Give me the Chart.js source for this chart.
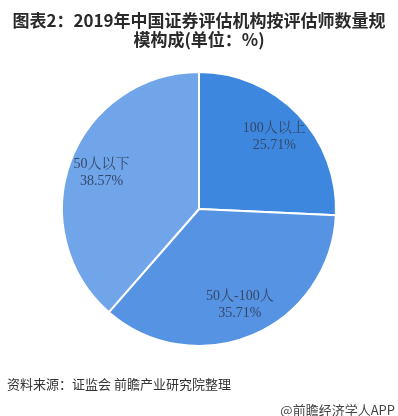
<!DOCTYPE html>
<html>
<head>
<meta charset="utf-8">
<script src="https://cdn.jsdelivr.net/npm/chart.js@4/dist/chart.umd.min.js"></script>
<style>
    html, body { margin: 0; padding: 0; background: #fff; }
    #box { width: 398px; height: 416px; position: relative; }
</style>
</head>
<body>
<div id="box"><canvas id="pieGraf"></canvas></div>
<script>
const labels = ['100人以上', '50人-100人', '50人以下'];
const values = [25.71, 35.71, 38.57];
const colors = ['rgb(62, 135, 222)', 'rgb(86, 147, 226)', 'rgb(113, 165, 233)'];
const titleLines = ['图表2：2019年中国证券评估机构按评估师数量规', '模构成(单位：%)'];
const sourceText = '资料来源：证监会 前瞻产业研究院整理';
const brandText = '@前瞻经济学人APP';

// labels inside slices + footer texts
const sliceLabels = {
    id: 'sliceLabels',
    afterDatasetsDraw(chart) {
        const ctx = chart.ctx;
        const meta = chart.getDatasetMeta(0);
        ctx.save();
        ctx.font = '14px "Liberation Serif", "Noto Serif CJK SC", "Noto Sans CJK SC"';
        ctx.fillStyle = '#34486a';
        ctx.textAlign = 'center';
        ctx.textBaseline = 'middle';
        meta.data.forEach((arc, i) => {
            const p = arc.getProps(['x', 'y', 'startAngle', 'endAngle', 'outerRadius']);
            const mid = (p.startAngle + p.endAngle) / 2;
            const r = p.outerRadius * 0.76;
            const x = p.x + Math.cos(mid) * r;
            const y = p.y + Math.sin(mid) * r;
            ctx.fillText(labels[i], x, y - 8.5);
            ctx.fillText(values[i].toFixed(2) + '%', x, y + 8.5);
        });
        ctx.restore();
    },
    afterDraw(chart) {
        const ctx = chart.ctx;
        ctx.save();
        ctx.font = '13px "Noto Sans CJK SC"';
        ctx.fillStyle = '#333';
        ctx.textBaseline = 'middle';
        ctx.textAlign = 'left';
        ctx.fillText(sourceText, 7, 384);
        ctx.fillStyle = '#444';
        ctx.textAlign = 'right';
        ctx.fillText(brandText, 395, 410);
        ctx.restore();
    }
};

const data = {
    labels: labels,
    datasets: [{
        data: values,
        backgroundColor: colors,
        borderColor: '#fff',
        borderWidth: 2,
    }]
};

const config = {
    type: 'pie',
    data: data,
    options: {
        responsive: true,
        maintainAspectRatio: false,
        animation: false,
        layout: {
            padding: { top: 0, bottom: 69, left: 0, right: 0 }
        },
        plugins: {
            legend: { display: false },
            tooltip: { enabled: false },
            title: {
                display: true,
                text: titleLines,
                color: '#2a2a2a',
                font: { family: '"Noto Sans CJK SC"', size: 17, weight: 'bold', lineHeight: 1.1 },
                padding: { top: 11, bottom: 22.6 }
            }
        }
    },
    plugins: [sliceLabels]
};

const pieGraf = document.getElementById('pieGraf').getContext('2d');
var grafPie = new Chart(pieGraf, config);
</script>
</body>
</html>
